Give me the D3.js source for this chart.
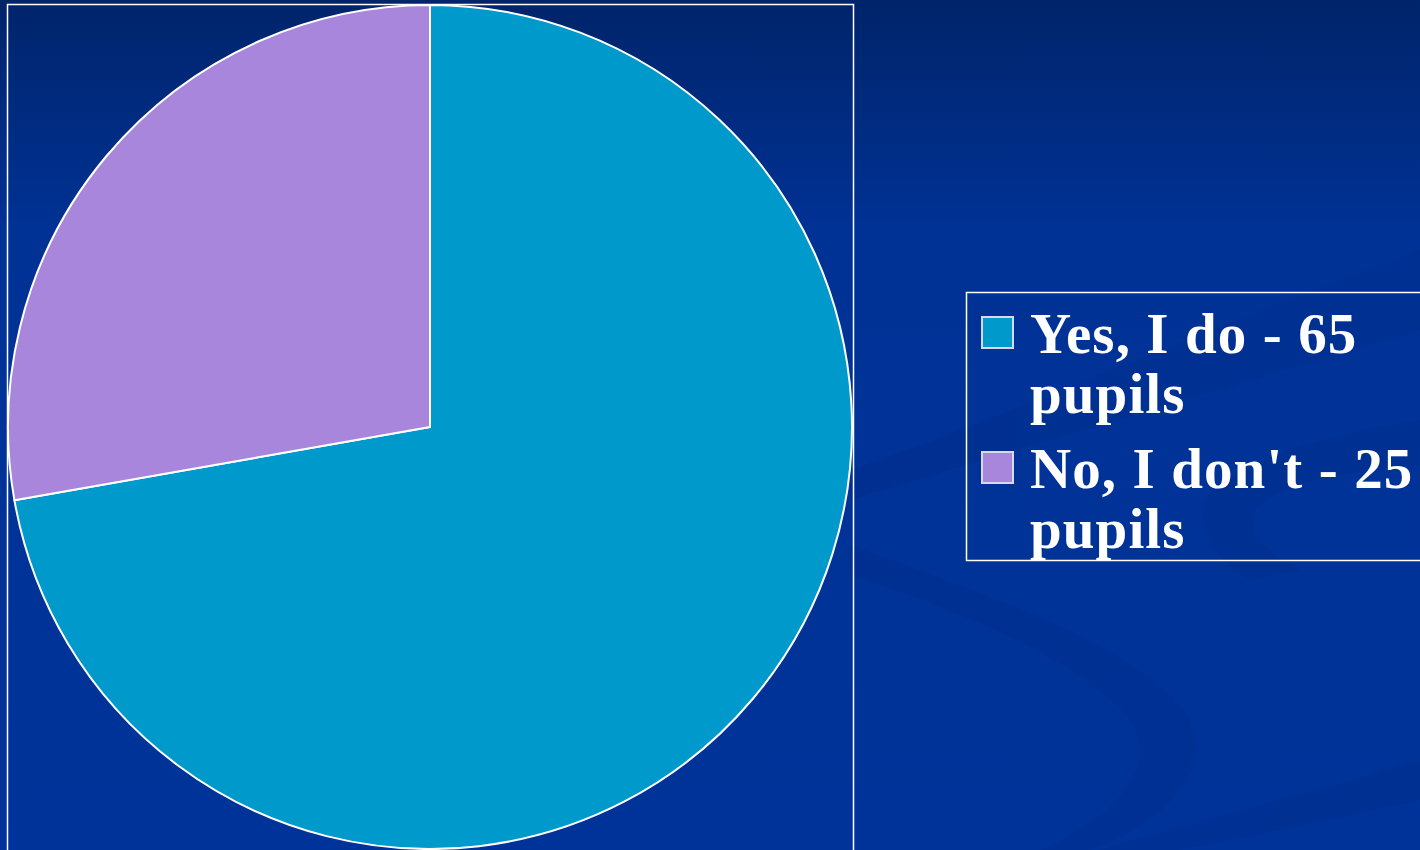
<!DOCTYPE html>
<html>
<head>
<meta charset="utf-8">
<script src="https://cdn.jsdelivr.net/npm/d3@7"></script>
<style>
  html, body { margin: 0; padding: 0; overflow: hidden; }
  svg { display: block; }
</style>
</head>
<body>
<script>
// data
var labels = ["Yes, I do - 65 pupils", "No, I don't - 25 pupils"];
var values = [65, 25];
var colors = ["#0099cc", "#a886dc"];
var legendLines = [["Yes, I do - 65", "pupils"], ["No, I don't - 25", "pupils"]];

var W = 1420, H = 850;

var svg = d3.select("body").append("svg")
    .attr("width", W)
    .attr("height", H);

// background gradient
var defs = svg.append("defs");
var grad = defs.append("linearGradient")
    .attr("id", "bg")
    .attr("x1", 0).attr("y1", 0).attr("x2", 0).attr("y2", 1);
grad.append("stop").attr("offset", "0%").attr("stop-color", "#00246a");
grad.append("stop").attr("offset", "28%").attr("stop-color", "#003296");
grad.append("stop").attr("offset", "100%").attr("stop-color", "#003399");

svg.append("rect")
    .attr("width", W).attr("height", H)
    .attr("fill", "url(#bg)");

// subtle swirl decoration in the background
var swirl = svg.append("g").attr("fill", "#002c86").attr("opacity", 0.3);
swirl.append("path")
    .attr("d", "M850,470 C1000,420 1200,330 1420,250 L1420,330 C1250,380 1050,440 850,500 Z");
swirl.append("path")
    .attr("d", "M850,545 C1000,600 1150,650 1190,720 C1215,780 1150,830 1090,850 L1040,850 C1110,820 1160,770 1130,720 C1080,660 960,610 850,575 Z");
swirl.append("path")
    .attr("d", "M1420,420 C1300,440 1220,470 1205,500 C1195,530 1215,560 1250,580 L1300,570 C1260,550 1240,525 1260,505 C1290,480 1350,470 1420,465 Z");
swirl.append("path")
    .attr("d", "M1100,850 C1200,820 1320,790 1420,760 L1420,800 C1330,820 1230,840 1180,850 Z");

// plot area frame
svg.append("rect")
    .attr("x", 7.5).attr("y", 4.5)
    .attr("width", 846).attr("height", 860)
    .attr("fill", "none")
    .attr("stroke", "#ffffff")
    .attr("stroke-width", 1.5);

// pie
var cx = 430, cy = 427, r = 422;

var pie = d3.pie().sort(null).value(function(d) { return d; });
var arc = d3.arc().innerRadius(0).outerRadius(r);

var g = svg.append("g")
    .attr("transform", "translate(" + cx + "," + cy + ")");

g.selectAll("path")
    .data(pie(values))
    .enter().append("path")
    .attr("d", arc)
    .attr("fill", function(d, i) { return colors[i]; })
    .attr("stroke", "#ffffff")
    .attr("stroke-width", 2)
    .attr("stroke-linejoin", "round");

// legend
svg.append("rect")
    .attr("x", 966.5).attr("y", 292.5)
    .attr("width", 480).attr("height", 268)
    .attr("fill", "none")
    .attr("stroke", "#ffffff")
    .attr("stroke-width", 1.5);

var legend = svg.selectAll(".legend")
    .data(labels)
    .enter().append("g")
    .attr("class", "legend")
    .attr("transform", function(d, i) { return "translate(982," + (317 + i * 135) + ")"; });

legend.append("rect")
    .attr("width", 31)
    .attr("height", 31)
    .attr("fill", function(d, i) { return colors[i]; })
    .attr("stroke", "#d8d8e8")
    .attr("stroke-width", 2);

legend.each(function(d, i) {
    var t = d3.select(this).append("text")
        .attr("x", 48)
        .attr("y", 36)
        .attr("fill", "#ffffff")
        .style("font-family", "'Liberation Serif', 'Times New Roman', serif")
        .style("font-weight", "bold")
        .style("font-size", "57px")
        .style("letter-spacing", "1.1px");
    legendLines[i].forEach(function(line, j) {
        t.append("tspan")
            .attr("x", 48)
            .attr("dy", j === 0 ? 0 : 60)
            .text(line);
    });
});
</script>
</body>
</html>
